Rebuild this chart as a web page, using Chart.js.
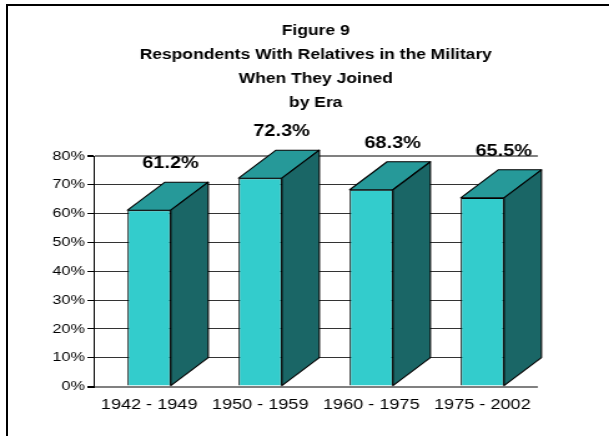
<!DOCTYPE html>
<html lang="en">
<head>
    <meta charset="UTF-8">
    <title>Figure 9</title>
    <script src="https://cdn.jsdelivr.net/npm/chart.js"></script>
    <style>
        html, body {
            margin: 0;
            padding: 0;
            background: #fff;
            overflow: hidden;
            width: 609px;
            height: 436px;
        }

        /* рамка: видны только левая и верхняя стороны */
        .frame {
            position: absolute;
            left: 6px;
            top: 4px;
            width: 700px;
            height: 600px;
            border-left: 2px solid #000;
            border-top: 2px solid #000;
            pointer-events: none;
        }

        /* исходный график растянут по горизонтали */
        .stretch {
            position: absolute;
            left: 0;
            top: 0;
            width: 488px;
            height: 436px;
            transform: scaleX(1.248);
            transform-origin: 0 0;
        }
    </style>
</head>
<body>
<div class="stretch">
    <canvas id="chart" width="488" height="436" style="width:488px;height:436px"></canvas>
</div>
<div class="frame"></div>

<script>
    // Данные
    const eras = ['1942 - 1949', '1950 - 1959', '1960 - 1975', '1975 - 2002'];
    const relativesPct = [61.2, 72.3, 68.3, 65.5];
    const yMax = 80;
    const yStep = 10;
    const titleLines = ['Figure 9', 'Respondents With Relatives in the Military', 'When They Joined', 'by Era'];

    const FONT = '"Liberation Sans", Arial, sans-serif';
    const DEPTH_X = 30;   // глубина столбца
    const DEPTH_Y = 28;

    // Боковая и верхняя грани + подписи
    const depthPlugin = {
        id: 'barDepth',
        afterDatasetsDraw(chart) {
            const ctx = chart.ctx;
            const meta = chart.getDatasetMeta(0);
            ctx.save();
            ctx.lineWidth = 1.1;
            ctx.strokeStyle = '#000';
            ctx.lineJoin = 'round';
            meta.data.forEach((bar, i) => {
                const p = bar.getProps(['x', 'y', 'base', 'width'], true);
                const l = p.x - p.width / 2;
                const r = p.x + p.width / 2;
                const t = p.y;
                const b = p.base;

                // верх
                ctx.beginPath();
                ctx.moveTo(l, t);
                ctx.lineTo(l + DEPTH_X, t - DEPTH_Y);
                ctx.lineTo(r + DEPTH_X, t - DEPTH_Y);
                ctx.lineTo(r, t);
                ctx.closePath();
                ctx.fillStyle = '#269999';
                ctx.fill();
                ctx.stroke();

                // бок
                ctx.beginPath();
                ctx.moveTo(r, t);
                ctx.lineTo(r + DEPTH_X, t - DEPTH_Y);
                ctx.lineTo(r + DEPTH_X, b - DEPTH_Y);
                ctx.lineTo(r, b);
                ctx.closePath();
                ctx.fillStyle = '#1a6666';
                ctx.fill();
                ctx.stroke();

                // подпись значения
                ctx.fillStyle = '#000';
                ctx.font = 'bold 16px ' + FONT;
                ctx.textAlign = 'center';
                ctx.textBaseline = 'alphabetic';
                ctx.fillText(relativesPct[i].toFixed(1) + '%', p.x + DEPTH_X * 0.57, t - DEPTH_Y - 14);
            });
            ctx.restore();
        }
    };

    const ctx = document.getElementById('chart').getContext('2d');
    new Chart(ctx, {
        type: 'bar',
        data: {
            labels: eras,
            datasets: [{
                data: relativesPct,
                backgroundColor: '#33cccc',
                borderColor: '#000',
                borderWidth: 1.1,
                barPercentage: 0.39,
                categoryPercentage: 1
            }]
        },
        options: {
            responsive: false,
            animation: false,
            devicePixelRatio: 1,
            layout: {
                padding: {left: 40, right: 57, top: 0, bottom: 12}
            },
            plugins: {
                legend: {display: false},
                tooltip: {enabled: false},
                title: {
                    display: true,
                    text: titleLines,
                    fullSize: false,
                    color: '#000',
                    font: {family: FONT, size: 14, weight: 'bold', lineHeight: 24 / 14},
                    padding: {top: 19, bottom: 41}
                }
            },
            scales: {
                x: {
                    grid: {display: false, drawTicks: false},
                    border: {display: false},
                    ticks: {
                        color: '#000',
                        padding: 10,
                        maxRotation: 0,
                        font: {family: FONT, size: 14.5}
                    }
                },
                y: {
                    min: 0,
                    max: yMax,
                    border: {display: true, color: '#000', width: 1},
                    grid: {
                        color: c => (c.tick.value === 0 || c.tick.value === yMax) ? '#808080' : '#333',
                        lineWidth: c => (c.tick.value === 0 || c.tick.value === yMax) ? 2 : 1,
                        tickColor: '#000',
                        tickLength: 5
                    },
                    ticks: {
                        stepSize: yStep,
                        color: '#000',
                        padding: 2,
                        font: {family: FONT, size: 13},
                        callback: v => v + '%'
                    }
                }
            }
        },
        plugins: [depthPlugin]
    });
</script>

</body>
</html>
